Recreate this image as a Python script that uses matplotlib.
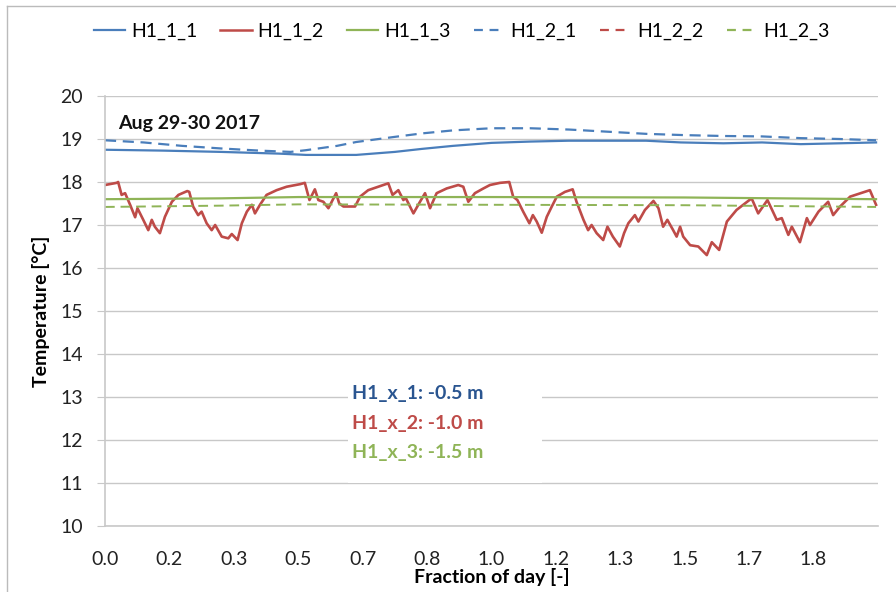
import numpy as np
import matplotlib.pyplot as plt
from matplotlib.lines import Line2D

# fraction of day / temperature [degC]
x_red = [0.000, 0.030, 0.034, 0.043, 0.052, 0.065, 0.078, 0.084, 0.099, 0.112,
         0.121, 0.129, 0.142, 0.155, 0.173, 0.190, 0.213, 0.218, 0.228, 0.241,
         0.250, 0.263, 0.276, 0.285, 0.302, 0.319, 0.328, 0.343, 0.354, 0.367,
         0.380, 0.388, 0.401, 0.418, 0.444, 0.470, 0.505, 0.517, 0.529, 0.543,
         0.552, 0.565, 0.578, 0.598, 0.606, 0.617, 0.647, 0.660, 0.681, 0.733,
         0.744, 0.759, 0.772, 0.778, 0.798, 0.815, 0.828, 0.841, 0.858, 0.884,
         0.914, 0.927, 0.940, 0.957, 0.979, 0.996, 1.022, 1.046, 1.056, 1.067,
         1.082, 1.098, 1.107, 1.117, 1.130, 1.143, 1.156, 1.169, 1.190, 1.210,
         1.220, 1.238, 1.250, 1.259, 1.272, 1.289, 1.300, 1.314, 1.332, 1.343,
         1.354, 1.371, 1.380, 1.397, 1.419, 1.432, 1.444, 1.455, 1.470, 1.479,
         1.488, 1.496, 1.514, 1.535, 1.557, 1.570, 1.589, 1.609, 1.634, 1.673,
         1.690, 1.714, 1.738, 1.751, 1.768, 1.777, 1.798, 1.816, 1.824, 1.846,
         1.871, 1.884, 1.902, 1.928, 1.979, 1.995]
h1_1_2 = [17.93, 17.98, 18.00, 17.70, 17.74, 17.47, 17.18, 17.39, 17.12, 16.88,
          17.12, 16.96, 16.81, 17.19, 17.54, 17.70, 17.79, 17.77, 17.43, 17.23,
          17.31, 17.04, 16.88, 17.00, 16.73, 16.69, 16.79, 16.65, 17.04, 17.31,
          17.47, 17.27, 17.47, 17.70, 17.81, 17.89, 17.95, 17.98, 17.58, 17.83,
          17.58, 17.54, 17.39, 17.74, 17.50, 17.43, 17.43, 17.66, 17.81, 17.97,
          17.70, 17.81, 17.58, 17.63, 17.27, 17.54, 17.74, 17.39, 17.74, 17.85,
          17.93, 17.89, 17.54, 17.74, 17.85, 17.93, 17.98, 18.00, 17.66, 17.58,
          17.31, 17.04, 17.23, 17.08, 16.82, 17.19, 17.43, 17.66, 17.77, 17.83,
          17.54, 17.12, 16.88, 17.00, 16.81, 16.65, 16.96, 16.73, 16.50, 16.81,
          17.04, 17.23, 17.08, 17.35, 17.56, 17.39, 16.96, 17.12, 16.88, 16.73,
          16.96, 16.73, 16.53, 16.50, 16.30, 16.60, 16.42, 17.08, 17.35, 17.62,
          17.27, 17.58, 17.12, 17.16, 16.77, 16.96, 16.60, 17.16, 17.00, 17.31,
          17.54, 17.23, 17.43, 17.66, 17.81, 17.47]

x_b1 = [0.0, 0.15, 0.3, 0.45, 0.52, 0.65, 0.75, 0.82, 0.9, 1.0, 1.1, 1.2,
        1.3, 1.4, 1.49, 1.6, 1.7, 1.8, 1.9, 1.995]
h1_1_1 = [18.75, 18.73, 18.70, 18.66, 18.63, 18.63, 18.70, 18.77, 18.84, 18.91,
          18.94, 18.96, 18.96, 18.96, 18.92, 18.90, 18.92, 18.88, 18.90, 18.92]

x_b2 = [0.0, 0.1, 0.2, 0.3, 0.4, 0.48, 0.52, 0.6, 0.65, 0.75, 0.82, 0.9,
        1.0, 1.1, 1.2, 1.3, 1.4, 1.5, 1.6, 1.7, 1.8, 1.9, 1.995]
h1_2_1 = [18.97, 18.92, 18.84, 18.78, 18.73, 18.70, 18.74, 18.84, 18.93, 19.05,
          19.13, 19.20, 19.25, 19.25, 19.22, 19.17, 19.12, 19.09, 19.07, 19.06,
          19.02, 19.00, 18.97]

x_g = [0.0, 0.3, 0.5, 1.0, 1.5, 1.995]
h1_1_3 = [17.60, 17.62, 17.65, 17.65, 17.64, 17.60]
h1_2_3 = [17.42, 17.45, 17.48, 17.47, 17.46, 17.42]

tick_pos = np.arange(12) / 6
tick_labels = ["0.0", "0.2", "0.3", "0.5", "0.7", "0.8",
               "1.0", "1.2", "1.3", "1.5", "1.7", "1.8"]

blue = "#4a7ebb"
red = "#be4b48"
green = "#8fb457"
grid_c = "#c8c8c8"

plt.rcParams["font.family"] = ["Lato", "DejaVu Sans"]

fig = plt.figure(figsize=(8.96, 5.92), dpi=100)
ax = fig.add_axes([105 / 896, 1 - 526 / 592, 773 / 896, 430 / 592])

dash = (5, 3)
ax.plot(x_b1, h1_1_1, color=blue, lw=1.6)
ax.plot(x_red, h1_1_2, color=red, lw=1.9)
ax.plot(x_g, h1_1_3, color=green, lw=1.6)
ax.plot(x_b2, h1_2_1, color=blue, lw=1.6, dashes=dash)
ax.plot(x_g, h1_2_3, color=green, lw=1.4, dashes=dash)

ax.set_xlim(0, 2.0)
ax.set_ylim(10, 20)
ax.set_yticks(range(10, 21))
ax.set_xticks(tick_pos)
ax.set_xticklabels(tick_labels)
ax.yaxis.grid(True, color=grid_c, lw=1)
ax.set_axisbelow(True)
for s in ["top", "right"]:
    ax.spines[s].set_visible(False)
for s in ["left", "bottom"]:
    ax.spines[s].set_color(grid_c)
    ax.spines[s].set_linewidth(1.2)
ax.tick_params(axis="y", length=6, color=grid_c, pad=10, labelsize=14, labelcolor="#222222")
ax.tick_params(axis="x", length=0, pad=18, labelsize=14, labelcolor="#222222")

ax.set_ylabel("Temperature [°C]", fontsize=14, fontweight="bold", labelpad=7)
ax.set_xlabel("Fraction of day [-]", fontsize=14, fontweight="bold", labelpad=0)

ax.text(0.017, 0.955, "Aug 29-30 2017", transform=ax.transAxes, fontsize=14,
        fontweight="bold", ha="left", va="top", color="#111111")

# depth annotation box
ax.add_patch(plt.Rectangle((0.315, 0.1), 0.25, 0.24, transform=ax.transAxes,
                           facecolor="white", edgecolor="none", zorder=3))
notes = [("H1_x_1: -0.5 m", "#2a5590"), ("H1_x_2: -1.0 m", red), ("H1_x_3: -1.5 m", green)]
for i, (txt, c) in enumerate(notes):
    ax.text(0.32, 0.307 - i * 0.068, txt, transform=ax.transAxes, fontsize=14,
            fontweight="bold", color=c, ha="left", va="center", zorder=4)

handles = [
    Line2D([], [], color=blue, lw=1.6),
    Line2D([], [], color=red, lw=1.8),
    Line2D([], [], color=green, lw=1.6),
    Line2D([], [], color=blue, lw=1.6, dashes=(4, 3)),
    Line2D([], [], color=red, lw=1.6, dashes=(4, 3)),
    Line2D([], [], color=green, lw=1.6, dashes=(4, 3)),
]
names = ["H1_1_1", "H1_1_2", "H1_1_3", "H1_2_1", "H1_2_2", "H1_2_3"]
fig.legend(handles, names, loc="center", ncol=6, frameon=False, fontsize=14,
           bbox_to_anchor=(462 / 896, 1 - 31 / 592), handlelength=1.6,
           handletextpad=0.3, columnspacing=1.2)

# outer chart frame
fig.add_artist(Line2D([7 / 896, 7 / 896], [0, 1 - 6 / 592], transform=fig.transFigure,
                      color="#bbbbbb", lw=1))
fig.add_artist(Line2D([7 / 896, 1], [1 - 6 / 592, 1 - 6 / 592], transform=fig.transFigure,
                      color="#bbbbbb", lw=1))

fig.savefig("out.png", dpi=100)
